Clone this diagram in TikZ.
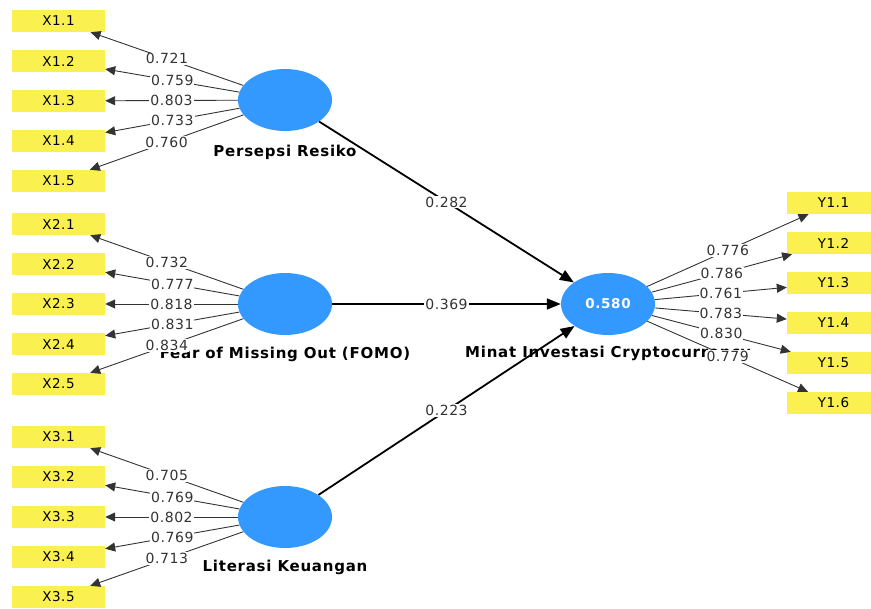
\documentclass[tikz,border=0pt]{standalone}
\usepackage{fontspec}
\setmainfont{DejaVu Sans}
\newfontfamily\lvfont[LetterSpace=5]{DejaVu Sans}
\newfontfamily\numfont[LetterSpace=4]{DejaVu Sans}
\usetikzlibrary{arrows.meta,shapes.geometric}
\definecolor{indyellow}{RGB}{250,240,80}
\definecolor{lvblue}{RGB}{51,153,255}

\begin{document}
\begin{tikzpicture}[x=1pt,y=-1pt,
  ind/.style={fill=indyellow, minimum width=93pt, minimum height=22pt,
    inner sep=0pt, font=\numfont\fontsize{13.5}{14}\selectfont},
  lv/.style={ellipse, fill=lvblue, minimum width=94pt, minimum height=62pt,
    inner sep=0pt},
  lvname/.style={anchor=base, inner sep=0pt,
    font=\lvfont\bfseries\fontsize{15}{15}\selectfont},
  load/.style={draw=black!80, line width=0.9pt,
    -{Triangle[length=10pt,width=9pt]}},
  beta/.style={line width=1.8pt, -{Triangle[length=14pt,width=11pt]}},
  val/.style={fill=white, inner sep=1pt, text=black!80,
    font=\numfont\fontsize{14}{14}\selectfont}]
\useasboundingbox (0,0) rectangle (871,609);

\node[lv] (per) at (285,100) {};
\node[lv] (fomo) at (285,304) {};
\node[lv] (lit) at (285,517) {};
\node[lv, text=white, font=\lvfont\bfseries\fontsize{13.5}{14}\selectfont]
  (minat) at (608,304) {0.580};

\node[lvname] (per-name) at (285,157) {Persepsi Resiko};
\node[lvname] (fomo-name) at (285,359) {Fear of Missing Out (FOMO)};
\node[lvname] (lit-name) at (285,572) {Literasi Keuangan};
\node[lvname] (minat-name) at (608,358) {Minat Investasi Cryptocurrency};

\draw[beta]
  (per) -- node[val] {0.282} (minat);
\draw[beta]
  (fomo) -- node[val] {0.369} (minat);
\draw[beta]
  (lit) -- node[val] {0.223} (minat);

\foreach \i/\v in {1/0.721, 2/0.759, 3/0.803, 4/0.733, 5/0.760} {
  \node[ind] (x1\i) at (58.5,{21+40*(\i-1)}) {X1.\i};
  \draw[load] (per) -- node[val] {\v} (x1\i);
}
\foreach \i/\v in {1/0.732, 2/0.777, 3/0.818, 4/0.831, 5/0.834} {
  \node[ind] (x2\i) at (58.5,{224+40*(\i-1)}) {X2.\i};
  \draw[load] (fomo) -- node[val] {\v} (x2\i);
}
\foreach \i/\v in {1/0.705, 2/0.769, 3/0.802, 4/0.769, 5/0.713} {
  \node[ind] (x3\i) at (58.5,{437+40*(\i-1)}) {X3.\i};
  \draw[load] (lit) -- node[val] {\v} (x3\i);
}
\foreach \i/\v in {1/0.776, 2/0.786, 3/0.761, 4/0.783, 5/0.830, 6/0.779} {
  \node[ind] (y\i) at (833.5,{203+40*(\i-1)}) {Y1.\i};
  \draw[load] (minat) -- node[val] {\v} (y\i);
}
\end{tikzpicture}
\end{document}
